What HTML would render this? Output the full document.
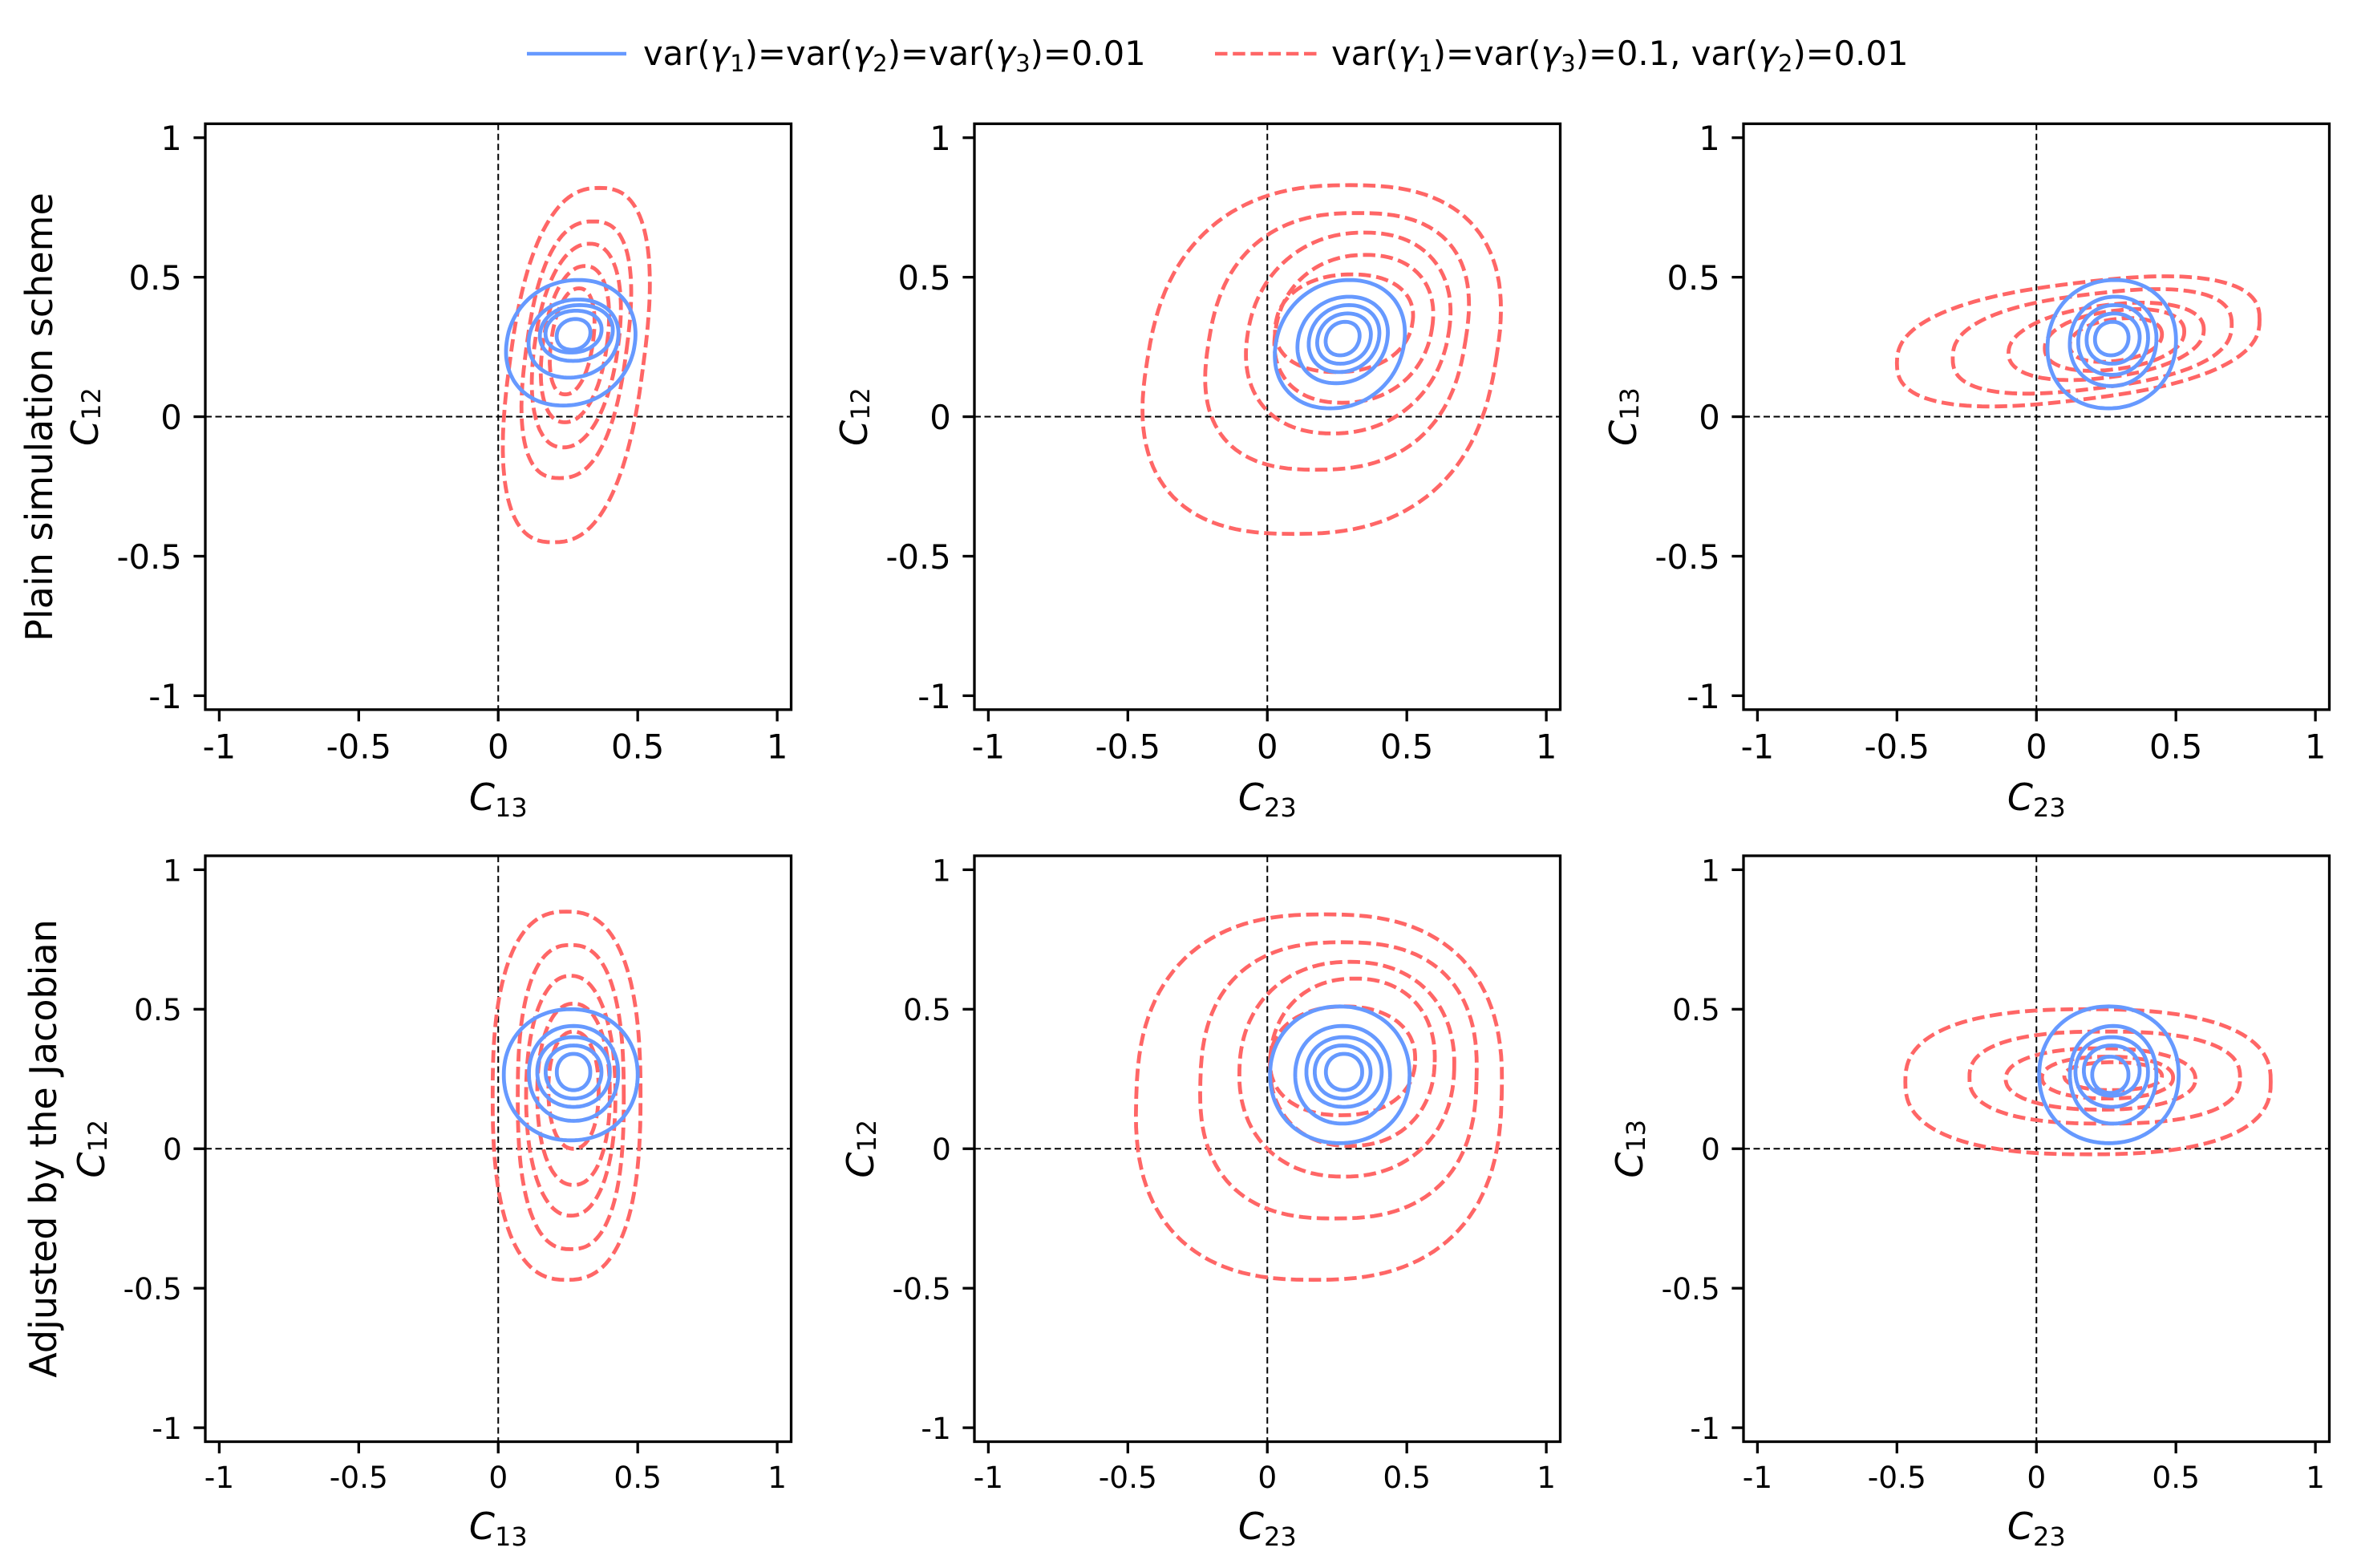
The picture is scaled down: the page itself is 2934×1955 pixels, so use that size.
<!DOCTYPE html>
<html><head><meta charset="utf-8"><style>
html,body{margin:0;padding:0;background:#fff;}
svg{display:block;font-family:"DejaVu Sans","Liberation Sans",sans-serif;}
</style></head><body>
<svg id="fig" xmlns="http://www.w3.org/2000/svg" width="2934" height="1955" viewBox="0 0 2934 1955">
<rect x="0" y="0" width="2934" height="1955" fill="#fff"/>
<g>
  <line x1="657" y1="67" x2="781" y2="67" stroke="#6699ff" stroke-width="4.6"/>
  <text x="802" y="81" font-size="41.7">var(<tspan font-style="italic">γ</tspan><tspan font-size="29" dy="8">1</tspan><tspan dy="-8">)=var(</tspan><tspan font-style="italic">γ</tspan><tspan font-size="29" dy="8">2</tspan><tspan dy="-8">)=var(</tspan><tspan font-style="italic">γ</tspan><tspan font-size="29" dy="8">3</tspan><tspan dy="-8">)=0.01</tspan></text>
  <line x1="1515" y1="67" x2="1643" y2="67" stroke="#ff6666" stroke-width="4.6" stroke-dasharray="15.5,6.7"/>
  <text x="1660" y="81" font-size="41.7">var(<tspan font-style="italic">γ</tspan><tspan font-size="29" dy="8">1</tspan><tspan dy="-8">)=var(</tspan><tspan font-style="italic">γ</tspan><tspan font-size="29" dy="8">3</tspan><tspan dy="-8">)=0.1, var(</tspan><tspan font-style="italic">γ</tspan><tspan font-size="29" dy="8">2</tspan><tspan dy="-8">)=0.01</tspan></text>
</g>
<text transform="translate(49,520) rotate(-90)" text-anchor="middle" dominant-baseline="central" font-size="46">Plain simulation scheme</text>
<text transform="translate(54,1432) rotate(-90)" text-anchor="middle" dominant-baseline="central" font-size="46">Adjusted by the Jacobian</text>
</svg>
<script>
// Tick values
const tickValues = [-1, -0.5, 0, 0.5, 1];
const tickLabels = ["-1", "-0.5", "0", "0.5", "1"];
// Contour extents per level (outer first): [xmin, xmax, ymin, ymax]
const p1Blue = [[0.03,0.49,0.04,0.49],[0.11,0.43,0.14,0.42],[0.15,0.41,0.20,0.40],[0.17,0.37,0.23,0.38],[0.21,0.33,0.24,0.35]];
const p1Red  = [[0.04,0.52,-0.45,0.82],[0.10,0.46,-0.22,0.70],[0.13,0.43,-0.11,0.62],[0.16,0.39,-0.02,0.54],[0.19,0.34,0.08,0.46]];
const p2Blue = [[0.03,0.49,0.03,0.49],[0.11,0.43,0.12,0.43],[0.15,0.40,0.16,0.40],[0.18,0.37,0.19,0.37],[0.21,0.33,0.22,0.34]];
const p2Red  = [[-0.43,0.82,-0.42,0.83],[-0.21,0.71,-0.19,0.73],[-0.07,0.65,-0.06,0.66],[0.03,0.59,0.05,0.58],[0.03,0.52,0.16,0.51]];
const p3Blue = [[0.04,0.50,0.03,0.49],[0.12,0.43,0.11,0.43],[0.15,0.40,0.15,0.40],[0.18,0.37,0.19,0.37],[0.21,0.33,0.22,0.34]];
const p3Red  = [[-0.50,0.80,0.06,0.48],[-0.30,0.70,0.10,0.44],[-0.10,0.60,0.14,0.40],[0.03,0.53,0.17,0.38],[0.12,0.45,0.20,0.35]];
const p4Blue = [[0.02,0.50,0.03,0.50],[0.11,0.43,0.10,0.44],[0.14,0.40,0.15,0.40],[0.17,0.37,0.18,0.37],[0.21,0.33,0.21,0.34]];
const p4Red  = [[-0.02,0.51,-0.47,0.85],[0.07,0.45,-0.36,0.73],[0.10,0.42,-0.24,0.62],[0.14,0.40,-0.13,0.52],[0.18,0.36,0.00,0.42]];
const p5Blue = [[0.01,0.51,0.02,0.51],[0.10,0.44,0.09,0.44],[0.14,0.41,0.15,0.40],[0.17,0.37,0.18,0.37],[0.21,0.34,0.21,0.34]];
const p5Red  = [[-0.47,0.84,-0.47,0.84],[-0.24,0.75,-0.25,0.74],[-0.10,0.67,-0.10,0.67],[0.01,0.60,0.01,0.61],[0.01,0.53,0.12,0.51]];
const p6Blue = [[0.01,0.51,0.02,0.51],[0.12,0.43,0.09,0.44],[0.14,0.40,0.15,0.40],[0.17,0.37,0.19,0.37],[0.20,0.33,0.20,0.33]];
const p6Red  = [[-0.47,0.84,-0.02,0.50],[-0.24,0.73,0.09,0.42],[-0.11,0.57,0.14,0.36],[0.02,0.49,0.18,0.33],[0.10,0.45,0.21,0.31]];
// Panel axis names
const panelXLabels = ["13","23","23","13","23","23"];
const panelYLabels = ["12","12","13","12","12","13"];

const NS = "http://www.w3.org/2000/svg";
const svg = document.getElementById('fig');
const lefts = [256, 1215, 2174], tops = [154.3, 1067], SIZE = 730.5;
const DMIN = -1.05, DMAX = 1.05;
function mk(tag, attrs, parent){ const e = document.createElementNS(NS, tag); for (const k in attrs) e.setAttribute(k, attrs[k]); parent.appendChild(e); return e; }

const panels = [
  {blue:p1Blue, red:p1Red, sx:0.13, sy:0, bsx:0.12, bsy:0},
  {blue:p2Blue, red:p2Red, sx:0.16, sy:0, bsx:0.15, bsy:0},
  {blue:p3Blue, red:p3Red, sx:0, sy:0.12, bsx:0.05, bsy:0},
  {blue:p4Blue, red:p4Red, sx:0, sy:0, bsx:0, bsy:0},
  {blue:p5Blue, red:p5Red, sx:0.03, sy:0, bsx:0, bsy:0},
  {blue:p6Blue, red:p6Red, sx:0, sy:0, bsx:0, bsy:0}
];

panels.forEach((p, i) => {
  const row = Math.floor(i / 3), col = i % 3;
  const L = lefts[col], T = tops[row];
  const xs = v => L + (v - DMIN) / (DMAX - DMIN) * SIZE;
  const ys = v => T + (DMAX - v) / (DMAX - DMIN) * SIZE;
  const fs = row === 0 ? 41.7 : 37.5;
  const g = mk('g', {}, svg);
  
  
  const clipId = 'clip' + i;
  const cp = mk('clipPath', {id: clipId}, g);
  mk('rect', {x: L, y: T, width: SIZE, height: SIZE}, cp);
  const plot = mk('g', {'clip-path': 'url(#' + clipId + ')'}, g);
  const zx = mk('line', {x1: xs(0), x2: xs(0), y1: T, y2: T + SIZE, stroke: '#000', 'stroke-width': 2, 'stroke-dasharray': '8,4.5'}, plot);
  
  
  const zy = mk('line', {x1: L, x2: L + SIZE, y1: ys(0), y2: ys(0), stroke: '#000', 'stroke-width': 2, 'stroke-dasharray': '8,4.5'}, plot);
  
  
  function contour(ext, pw, shx, shy){
    const cx = (ext[0] + ext[1]) / 2, cy = (ext[2] + ext[3]) / 2;
    const rx = (ext[1] - ext[0]) / 2, ry = (ext[3] - ext[2]) / 2;
    let d = '';
    for (let k = 0; k <= 120; k++) {
      const t = k / 120 * Math.PI * 2;
      const c = Math.cos(t), s = Math.sin(t);
      const ux = Math.sign(c) * Math.pow(Math.abs(c), 2 / pw);
      const uy = Math.sign(s) * Math.pow(Math.abs(s), 2 / pw);
      let x = cx + rx * ux, y = cy + ry * uy;
      x += shx * (y - cy); y += shy * (x - cx);
      d += (k ? 'L' : 'M') + xs(x).toFixed(1) + ',' + ys(y).toFixed(1);
    }
    return d + 'Z';
  }
  p.red.forEach((ext, j) => {
    const e = mk('path', {d: contour(ext, j < 2 ? 2.5 : 2.2, p.sx, p.sy), fill: 'none', stroke: '#ff6666', 'stroke-width': 4.8, 'stroke-dasharray': '15.5,6.7'}, plot);
    
    
  });
  p.blue.forEach((ext, j) => {
    const e = mk('path', {d: contour(ext, 2.1, p.bsx, p.bsy), fill: 'none', stroke: '#6699ff', 'stroke-width': 4.8}, plot);
    
    
  });
  const fr = mk('rect', {x: L, y: T, width: SIZE, height: SIZE, fill: 'none', stroke: '#000', 'stroke-width': 3.3}, g);
  
  
  tickValues.forEach((v, k) => {
    const X = xs(v), Y = ys(v);
    mk('line', {x1: X, x2: X, y1: T + SIZE, y2: T + SIZE + 14.6, stroke: '#000', 'stroke-width': 3.3}, g);
    const tx = mk('text', {x: X, y: T + SIZE + 29.2 + fs * 0.76, 'text-anchor': 'middle', 'font-size': fs}, g);
    tx.textContent = tickLabels[k];
    
    
    mk('line', {x1: L, x2: L - 14.6, y1: Y, y2: Y, stroke: '#000', 'stroke-width': 3.3}, g);
    const ty = mk('text', {x: L - 29.2, y: Y + fs * 0.37, 'text-anchor': 'end', 'font-size': fs}, g);
    ty.textContent = tickLabels[k];
    
    
  });
  const xl = mk('text', {x: xs(0), y: T + SIZE + (row === 0 ? 125 : 121.5), 'text-anchor': 'middle', 'font-size': 46}, g);
  xl.innerHTML = '<tspan font-style="italic">C</tspan><tspan font-size="32" dy="8">' + panelXLabels[i] + '</tspan>';
  
  
  const ylx = L - (row === 0 ? 150 : 142);
  const yl = mk('text', {transform: 'translate(' + ylx + ',' + ys(0) + ') rotate(-90)', 'text-anchor': 'middle', 'font-size': 46, 'dominant-baseline': 'central'}, g);
  yl.innerHTML = '<tspan font-style="italic">C</tspan><tspan font-size="32" dy="8">' + panelYLabels[i] + '</tspan>';
  
  
});
</script>
</body></html>
